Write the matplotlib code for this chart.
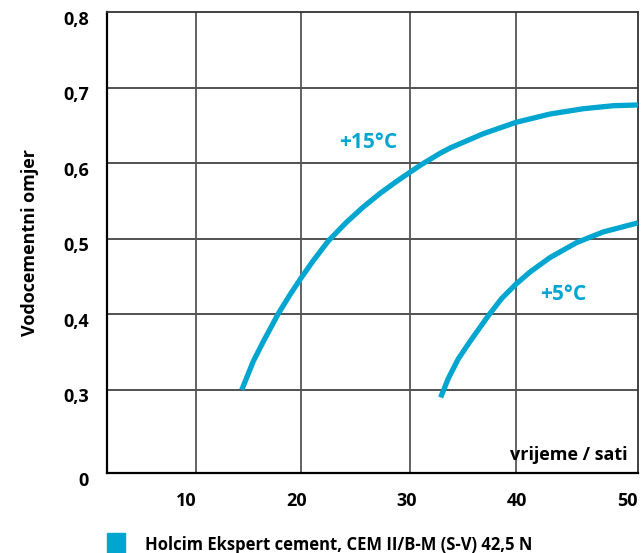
import matplotlib.pyplot as plt
from matplotlib.patches import Rectangle
from matplotlib.transforms import offset_copy

plt.rcParams['font.family'] = ['Open Sans', 'DejaVu Sans']

# +15 C curve
t15 = [15.04, 16.09, 17.00, 18.36, 19.42, 20.42, 21.53, 22.89, 24.56, 26.07, 27.59,
       29.10, 30.31, 31.22, 33.03, 33.94, 36.96, 39.93, 43.01, 46.03, 48.76, 51.0]
w15 = [0.300, 0.338, 0.364, 0.401, 0.426, 0.448, 0.471, 0.497, 0.522, 0.542, 0.560,
       0.576, 0.588, 0.597, 0.613, 0.620, 0.639, 0.654, 0.665, 0.672, 0.676, 0.677]
# +5 C curve
t5 = [33.09, 33.78, 34.69, 35.75, 37.41, 38.63, 39.93, 41.20, 43.01, 45.44, 47.85, 51.0]
w5 = [0.290, 0.315, 0.341, 0.364, 0.398, 0.421, 0.440, 0.456, 0.475, 0.495, 0.509, 0.521]

xticks = [10, 20, 30, 40, 50]
yticks = [0.19, 0.3, 0.4, 0.5, 0.6, 0.7, 0.8]
ylabels = ['0', '0,3', '0,4', '0,5', '0,6', '0,7', '0,8']
vgrid = [10.89, 20.42, 30.31, 39.93]

blue = '#00a6d0'

fig = plt.figure(figsize=(6.41, 5.53), dpi=100)
ax = fig.add_axes([107/641, 1-473/553, 531/641, 461/553])

for g in yticks[1:-1]:
    ax.axhline(g, color='#222222', lw=1.1, zorder=1)
for g in vgrid:
    ax.axvline(g, color='#555555', lw=1.3, zorder=1)

ax.plot(t15, w15, color=blue, lw=3.8, solid_capstyle='butt', solid_joinstyle='round', zorder=3)
ax.plot(t5, w5, color=blue, lw=3.8, solid_capstyle='butt', solid_joinstyle='round', zorder=3)

ax.set_xlim(2.81, 51.0)
ax.set_ylim(0.19, 0.8)

ax.set_xticks(xticks)
ax.set_xticklabels([str(v) for v in xticks], fontsize=13, fontweight='bold')
ax.set_yticks(yticks)
ax.set_yticklabels(ylabels, fontsize=13, fontweight='bold')
ax.tick_params(length=0)
ax.tick_params(axis='x', pad=14)
ax.tick_params(axis='y', pad=13)
for lab in ax.get_yticklabels():
    lab.set_transform(offset_copy(lab.get_transform(), fig=fig, x=0, y=-4, units='points'))

for s in ['left', 'bottom']:
    ax.spines[s].set_linewidth(1.6)
    ax.spines[s].set_color('black')
for s in ['top', 'right']:
    ax.spines[s].set_linewidth(1.3)
    ax.spines[s].set_color('#333333')

ax.set_ylabel('Vodocementni omjer', fontsize=13, fontweight='bold', labelpad=17)

ax.text(0.981, 0.028, 'vrijeme / sati', transform=ax.transAxes, ha='right', va='baseline',
        fontsize=13, fontweight='bold')
ax.text(26.54, 0.627, '+15°C', color=blue, fontsize=15, fontweight='bold', ha='center', va='center')
ax.text(44.2, 0.426, '+5°C', color=blue, fontsize=15, fontweight='bold', ha='center', va='center')

fig.patches.append(Rectangle((107/641, 0), 18/641, 20/553, transform=fig.transFigure,
                             color=blue, figure=fig))
fig.text(145/641, 3/553, 'Holcim Ekspert cement, CEM II/B-M (S-V) 42,5 N',
         fontsize=12, fontweight='bold', va='baseline', ha='left')

fig.savefig('out.png', dpi=100)
